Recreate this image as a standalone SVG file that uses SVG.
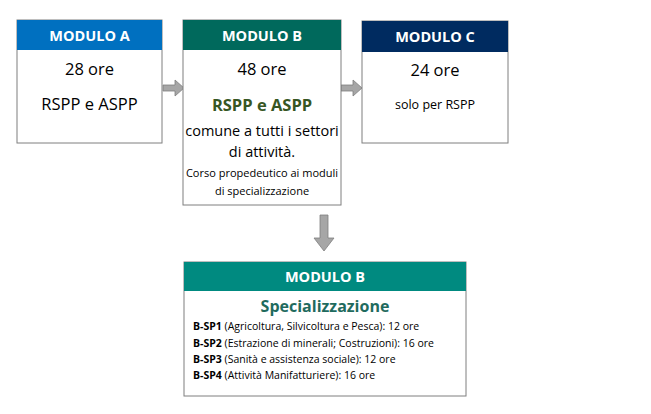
<svg xmlns="http://www.w3.org/2000/svg" width="651" height="414" viewBox="0 0 651 414">
<defs><style>
text{font-family:"Open Sans","Liberation Sans",sans-serif;text-anchor:middle;fill:#000}
.box{fill:#fff;stroke:#7f7f7f;stroke-width:1}
text.hd{fill:#fff;font-weight:bold;font-size:14.5px}
.arr{fill:#a6a6a6;stroke:#7f7f7f;stroke-width:0.8}
.sp{text-anchor:start;font-size:10.5px}
text.g{fill:#375623;font-weight:bold}
text.t{fill:#1f6b5e;font-weight:bold}
</style></defs>
<rect width="651" height="414" fill="#fff"/>
<g id="connectors">
<path class="arr" d="M163,85 H175 V80 L184,88 L175,96 V91 H163 Z"/>
<path class="arr" d="M341,85 H353 V80 L362,88 L353,96 V91 H341 Z"/>
<path class="arr" d="M320,215 H328 V238 H334 L324,251 L314,238 H320 Z"/>
</g>
<g id="moduloA">
<rect class="box" x="17" y="20" width="145" height="123"/>
<rect x="17" y="20" width="145" height="30" fill="#0070c0"/>
<text class="hd" x="89.5" y="41">MODULO A</text>
<text x="89.5" y="75" font-size="16.5">28 ore</text>
<text x="89.5" y="110" font-size="16.5">RSPP e ASPP</text>
</g>
<g id="moduloB">
<rect class="box" x="183" y="20" width="158" height="185"/>
<rect x="183" y="20" width="158" height="30" fill="#00695c"/>
<text class="hd" x="262" y="41">MODULO B</text>
<text x="262" y="75" font-size="16.5">48 ore</text>
<text class="g" x="262" y="111" font-size="16.5">RSPP e ASPP</text>
<text x="262" y="136" font-size="14.5">comune a tutti i settori</text>
<text x="262" y="157" font-size="14.5">di attività.</text>
<text x="262" y="177" font-size="11">Corso propedeutico ai moduli</text>
<text x="262" y="195" font-size="11">di specializzazione</text>
</g>
<g id="moduloC">
<rect class="box" x="362" y="21" width="146" height="122"/>
<rect x="362" y="21" width="146" height="31" fill="#002b60"/>
<text class="hd" x="435" y="42">MODULO C</text>
<text x="435" y="76" font-size="16.5">24 ore</text>
<text x="435" y="109" font-size="12.5">solo per RSPP</text>
</g>
<g id="moduloBspec">
<rect class="box" x="184" y="262" width="282" height="134"/>
<rect x="184" y="262" width="282" height="29" fill="#008a80"/>
<text class="hd" x="325" y="282">MODULO B</text>
<text class="t" x="325" y="312" font-size="16">Specializzazione</text>
<text class="sp" x="193" y="330"><tspan font-weight="bold">B-SP1</tspan> (Agricoltura, Silvicoltura e Pesca): 12 ore</text>
<text class="sp" x="193" y="347"><tspan font-weight="bold">B-SP2</tspan> (Estrazione di minerali; Costruzioni): 16 ore</text>
<text class="sp" x="193" y="363"><tspan font-weight="bold">B-SP3</tspan> (Sanità e assistenza sociale): 12 ore</text>
<text class="sp" x="193" y="379"><tspan font-weight="bold">B-SP4</tspan> (Attività Manifatturiere): 16 ore</text>
</g>
</svg>
